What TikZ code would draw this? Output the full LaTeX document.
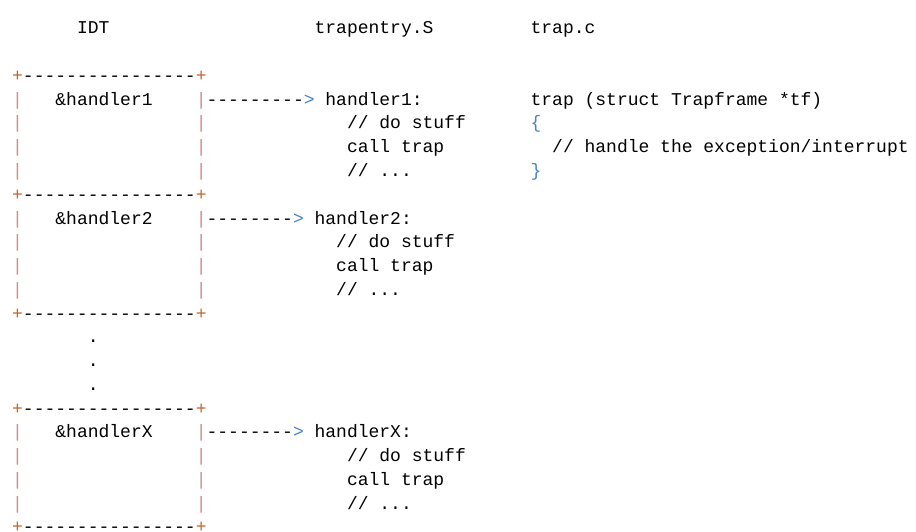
\documentclass[tikz,border=0pt]{standalone}
\usepackage{fontspec}
\setmonofont{Liberation Mono}
\definecolor{plc}{RGB}{200,100,40}
\definecolor{vbc}{RGB}{210,140,140}
\definecolor{gtc}{RGB}{70,130,200}
\newcommand\tx[4][black]{\node[txt,text=#1] at ({12+#2*10.8},{34+#3*23.75}) {#4};}
\newcommand\boxline[1]{\tx[plc]{0}{#1}{+}\tx{1}{#1}{----------------}\tx[plc]{17}{#1}{+}}
\newcommand\sides[1]{\tx[vbc]{0}{#1}{|}\tx[vbc]{17}{#1}{|}}
\begin{document}
\begin{tikzpicture}[x=1pt,y=-1pt,
  txt/.style={anchor=base west,inner sep=0pt,font=\ttfamily\fontsize{18}{18}\selectfont}]
\useasboundingbox (0,0) rectangle (916,532);
\tx{6}{0}{IDT}\tx{28}{0}{trapentry.S}\tx{48}{0}{trap.c}
% block 1
\boxline{2}
\sides{3}\sides{4}\sides{5}\sides{6}
\tx{4}{3}{\&handler1}\tx{18}{3}{---------}\tx[gtc]{27}{3}{>}\tx{29}{3}{handler1:}
\tx{31}{4}{// do stuff}\tx{31}{5}{call trap}\tx{31}{6}{// ...}
\tx{48}{3}{trap (struct Trapframe *tf)}
\tx[gtc]{48}{4}{\{}\tx{50}{5}{// handle the exception/interrupt}\tx[gtc]{48}{6}{\}}
% block 2
\boxline{7}
\sides{8}\sides{9}\sides{10}\sides{11}
\tx{4}{8}{\&handler2}\tx{18}{8}{--------}\tx[gtc]{26}{8}{>}\tx{28}{8}{handler2:}
\tx{30}{9}{// do stuff}\tx{30}{10}{call trap}\tx{30}{11}{// ...}
\boxline{12}
\tx{7}{13}{.}\tx{7}{14}{.}\tx{7}{15}{.}
% block X
\boxline{16}
\sides{17}\sides{18}\sides{19}\sides{20}
\tx{4}{17}{\&handlerX}\tx{18}{17}{--------}\tx[gtc]{26}{17}{>}\tx{28}{17}{handlerX:}
\tx{31}{18}{// do stuff}\tx{31}{19}{call trap}\tx{31}{20}{// ...}
\boxline{21}
\end{tikzpicture}
\end{document}
